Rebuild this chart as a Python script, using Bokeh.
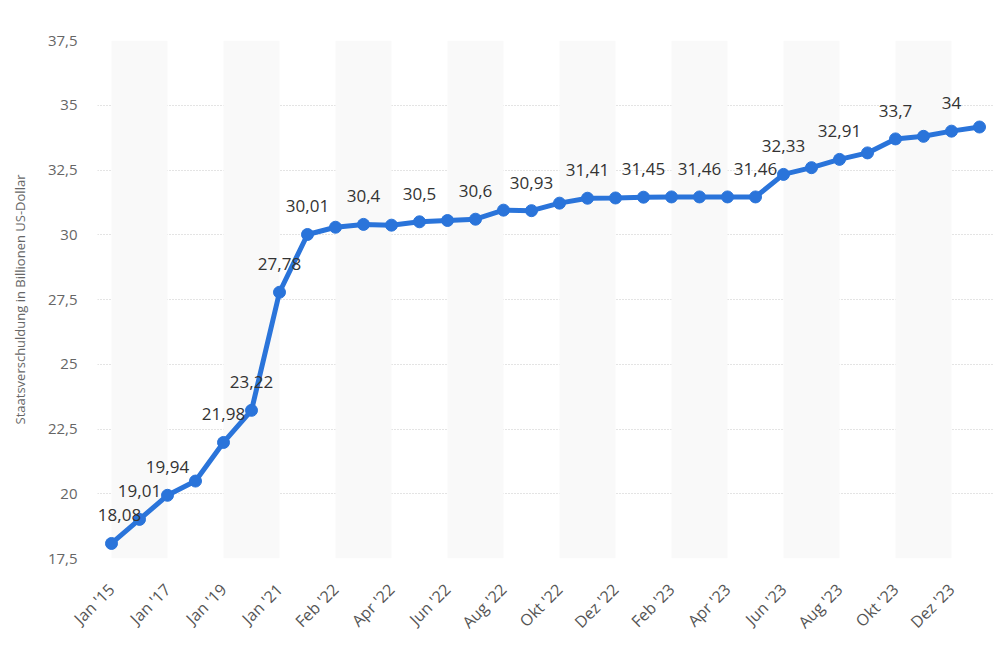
import numpy as np
from bokeh.plotting import figure
from bokeh.models import ColumnDataSource, FixedTicker, BoxAnnotation, Range1d
from bokeh.core.properties import value
from bokeh.embed import file_html
from bokeh.resources import INLINE

# ---- data ----
months = ["Jan '15", "Jan '16", "Jan '17", "Jan '18", "Jan '19", "Jan '20", "Jan '21", "Jan '22",
          "Feb '22", "Mär '22", "Apr '22", "Mai '22", "Jun '22", "Jul '22", "Aug '22", "Sep '22",
          "Okt '22", "Nov '22", "Dez '22", "Jan '23", "Feb '23", "Mär '23", "Apr '23", "Mai '23",
          "Jun '23", "Jul '23", "Aug '23", "Sep '23", "Okt '23", "Nov '23", "Dez '23", "Jan '24"]
debt = [18.08, 19.01, 19.94, 20.49, 21.98, 23.22, 27.78, 30.01,
        30.29, 30.40, 30.37, 30.50, 30.55, 30.60, 30.95, 30.93,
        31.22, 31.41, 31.42, 31.45, 31.46, 31.46, 31.46, 31.46,
        32.33, 32.59, 32.91, 33.16, 33.70, 33.80, 34.00, 34.16]
point_labels = ["18,08", "19,01", "19,94", "", "21,98", "23,22", "27,78", "30,01",
                "", "30,4", "", "30,5", "", "30,6", "", "30,93",
                "", "31,41", "", "31,45", "", "31,46", "", "31,46",
                "32,33", "", "32,91", "", "33,7", "", "34", ""]
y_ticks = [17.5, 20, 22.5, 25, 27.5, 30, 32.5, 35, 37.5]
y_tick_labels = ["17,5", "20", "22,5", "25", "27,5", "30", "32,5", "35", "37,5"]
y_title = "Staatsverschuldung in Billionen US-Dollar"

FONT = "Open Sans"
x = list(range(len(months)))
# keep the first data label inside the plot area (shifted right like the original)
label_dx = [8 if i == 0 else 0 for i in x]
src = ColumnDataSource(dict(x=x, y=debt, lab=point_labels, dx=label_dx))

p = figure(width=998, height=643, output_backend="svg", toolbar_location=None,
           x_range=Range1d(-0.5, len(months) - 0.5), y_range=Range1d(17.5, 37.5),
           min_border_left=97, min_border_right=5, min_border_top=40, min_border_bottom=84)
p.outline_line_color = None
p.background_fill_color = "white"
p.border_fill_color = "white"

# alternating bands (every other tick interval)
for i in range(0, len(months), 4):
    p.add_layout(BoxAnnotation(left=i, right=i + 2, fill_color="#f9f9f9", fill_alpha=1.0,
                               line_color=None, level="underlay"))

p.xgrid.visible = False
p.ygrid.ticker = FixedTicker(ticks=y_ticks)
p.ygrid.grid_line_color = "#c8c8c8"
p.ygrid.grid_line_dash = "1 2"
p.ygrid.grid_line_width = 1

p.line("x", "y", source=src, line_color="#2a74da", line_width=5)
p.scatter("x", "y", source=src, size=12, fill_color="#2a74da", line_color="#2a74da")
p.text("x", "y", text="lab", source=src, text_align="center", text_baseline="middle",
       x_offset="dx", y_offset=-28, text_font=value(FONT), text_font_size="17px",
       text_color="#333333")

# y axis
ya = p.yaxis[0]
ya.ticker = FixedTicker(ticks=y_ticks)
ya.major_label_overrides = {t: l for t, l in zip(y_ticks, y_tick_labels)}
ya.axis_line_color = None
ya.major_tick_line_color = None
ya.minor_tick_line_color = None
ya.major_tick_out = 0
ya.major_label_standoff = 20
ya.major_label_text_font = FONT
ya.major_label_text_font_size = "15px"
ya.major_label_text_color = "#666666"
ya.axis_label = y_title
ya.axis_label_text_font = FONT
ya.axis_label_text_font_size = "13px"
ya.axis_label_text_font_style = "normal"
ya.axis_label_text_color = "#666666"
ya.axis_label_standoff = 16

# x axis
xa = p.xaxis[0]
xt = x[::2]
xa.ticker = FixedTicker(ticks=xt)
xa.major_label_overrides = {i: months[i] for i in xt}
xa.axis_line_color = None
xa.major_tick_line_color = None
xa.minor_tick_line_color = None
xa.major_tick_out = 0
xa.major_label_orientation = np.pi / 4
xa.major_label_standoff = 28
xa.major_label_text_font = FONT
xa.major_label_text_font_size = "16px"
xa.major_label_text_color = "#555555"

open("out.html", "w").write(file_html(p, INLINE))
